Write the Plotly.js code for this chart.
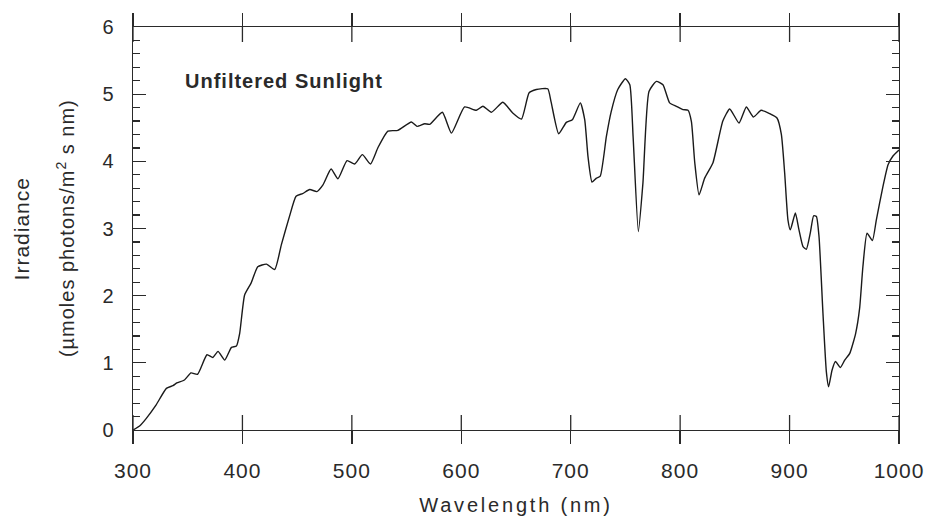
<!DOCTYPE html>
<html>
<head>
<meta charset="utf-8">
<script src="https://cdn.plot.ly/plotly-3.0.1.min.js"></script>
<style>
  body { margin: 0; background: #fff; }
  #chart { width: 926px; height: 516px; }
  .xtick text, .ytick text, .annotation-text { letter-spacing: 1px; }
  .xtitle { letter-spacing: 2.8px; }
</style>
</head>
<body>
<div id="chart"></div>
<script>
const wavelength = [300, 306, 312, 321, 330.5, 336.5, 340, 347, 353, 359, 367.6, 373, 377.7, 383.8, 390, 394.5, 397.5, 402, 408, 414, 422, 429.5, 435.6, 443, 449, 455, 461.5, 468, 473.6, 481, 487.3, 495.6, 502.6, 509.6, 517, 524, 533, 542, 554.4, 559.5, 566.6, 571, 582.7, 591, 603, 613.8, 619.8, 627.5, 638, 647, 655, 662, 668.6, 679, 682, 689, 696, 701.5, 708.8, 712.8, 715.8, 719.5, 723.5, 727, 732.6, 737, 743, 750, 754, 757, 761.8, 766, 771.5, 778.3, 784.3, 790.4, 796.6, 802.6, 807.2, 810.3, 813.3, 817.3, 822.4, 830, 839, 845.3, 853.8, 860.5, 867, 874, 881.8, 888.5, 892.5, 895.5, 898.5, 900.7, 905.3, 908.6, 912.3, 915.3, 919, 922, 924.5, 926.9, 930.5, 933.6, 935.7, 938.8, 941.9, 946.4, 950.4, 955, 960.4, 964, 967, 970.8, 975.7, 979.3, 985.4, 990, 994.5, 1000];
const irradiance = [0, 0.06, 0.17, 0.37, 0.62, 0.66, 0.70, 0.745, 0.85, 0.83, 1.12, 1.08, 1.17, 1.04, 1.23, 1.25, 1.44, 2.01, 2.19, 2.43, 2.47, 2.39, 2.76, 3.18, 3.48, 3.52, 3.58, 3.55, 3.65, 3.885, 3.74, 4.01, 3.96, 4.10, 3.96, 4.21, 4.45, 4.46, 4.585, 4.52, 4.56, 4.55, 4.73, 4.42, 4.81, 4.76, 4.82, 4.73, 4.88, 4.72, 4.63, 5.02, 5.07, 5.08, 4.89, 4.41, 4.58, 4.62, 4.87, 4.62, 4.07, 3.69, 3.75, 3.78, 4.37, 4.74, 5.07, 5.23, 5.14, 4.37, 2.955, 3.68, 5.04, 5.19, 5.14, 4.87, 4.82, 4.77, 4.76, 4.59, 3.99, 3.50, 3.75, 3.98, 4.60, 4.78, 4.57, 4.81, 4.66, 4.76, 4.71, 4.645, 4.40, 3.83, 3.13, 2.98, 3.23, 2.98, 2.73, 2.69, 2.94, 3.19, 3.18, 2.88, 1.74, 0.87, 0.645, 0.89, 1.02, 0.93, 1.04, 1.14, 1.44, 1.81, 2.43, 2.93, 2.82, 3.13, 3.63, 3.95, 4.08, 4.17];
const xTickVals = [300, 400, 500, 600, 700, 800, 900, 1000];
const xTickText = ['300', '400', '500', '600', '700', '800', '900', '1000'];
const yTickVals = [0, 1, 2, 3, 4, 5, 6];
const yTickText = ['0', '1', '2', '3', '4', '5', '6'];

const FONT = 'Liberation Sans, Arial, Helvetica, sans-serif';
const INK = '#2a2a2a';

const traces = [
  {
    x: wavelength, y: irradiance, type: 'scatter', mode: 'lines',
    line: { color: '#1a1a1a', width: 1.4, shape: 'spline', smoothing: 0.5 },
    hoverinfo: 'x+y', showlegend: false
  }
];

// inner halves of the crossing x ticks (bottom and top), placed on the x scale at the tick values
const innerTicks = [];
xTickVals.forEach(v => {
  innerTicks.push({ type: 'line', xref: 'x', yref: 'paper', ysizemode: 'pixel', yanchor: 0,
    x0: v, x1: v, y0: 0, y1: 15, line: { color: INK, width: 1.3 }, layer: 'above' });
  innerTicks.push({ type: 'line', xref: 'x', yref: 'paper', ysizemode: 'pixel', yanchor: 1,
    x0: v, x1: v, y0: 0, y1: -15, line: { color: INK, width: 1.3 }, layer: 'above' });
});

const layout = {
  width: 926, height: 516,
  margin: { l: 133, r: 27, t: 27, b: 86 },
  paper_bgcolor: '#ffffff', plot_bgcolor: '#ffffff',
  font: { family: FONT, color: INK, size: 20 },
  xaxis: {
    range: [300, 1000], tickvals: xTickVals, ticktext: xTickText,
    ticks: 'outside', ticklen: 13, tickwidth: 1.3, tickcolor: INK,
    showline: true, linecolor: INK, linewidth: 1.3, mirror: 'ticks',
    showgrid: false, zeroline: false, ticklabelstandoff: 8,
    tickfont: { size: 21, family: FONT, color: INK },
    title: { text: 'Wavelength (nm)', font: { size: 20, family: FONT, color: INK }, standoff: 18 }
  },
  yaxis: {
    range: [0, 6], tickvals: yTickVals, ticktext: yTickText,
    ticks: 'inside', ticklen: 13, tickwidth: 1.3, tickcolor: INK,
    minor: { dtick: 0.2, ticks: 'inside', ticklen: 7, tickwidth: 1.2, tickcolor: INK, showgrid: false },
    showline: true, linecolor: INK, linewidth: 1.3, mirror: 'ticks',
    showgrid: false, zeroline: false, ticklabelstandoff: 13,
    tickfont: { size: 20, family: FONT, color: INK }
  },
  shapes: innerTicks,
  annotations: [
    {
      text: '<b>Unfiltered Sunlight</b>', xref: 'paper', yref: 'paper',
      x: 0.065, y: 0.865, xanchor: 'left', yanchor: 'middle', showarrow: false,
      font: { size: 20, family: FONT, color: INK }
    },
    {
      text: 'Irradiance', xref: 'paper', yref: 'paper', textangle: -90,
      x: -0.145, y: 0.5, xanchor: 'center', yanchor: 'middle', showarrow: false,
      font: { size: 21, family: FONT, color: INK }
    },
    {
      text: '(µmoles photons/m<sup>2</sup> s nm)', xref: 'paper', yref: 'paper', textangle: -90,
      x: -0.088, y: 0.5, xanchor: 'center', yanchor: 'middle', showarrow: false,
      font: { size: 20, family: FONT, color: INK }
    }
  ]
};

Plotly.newPlot('chart', traces, layout, { displayModeBar: false, staticPlot: true });
</script>
</body>
</html>
